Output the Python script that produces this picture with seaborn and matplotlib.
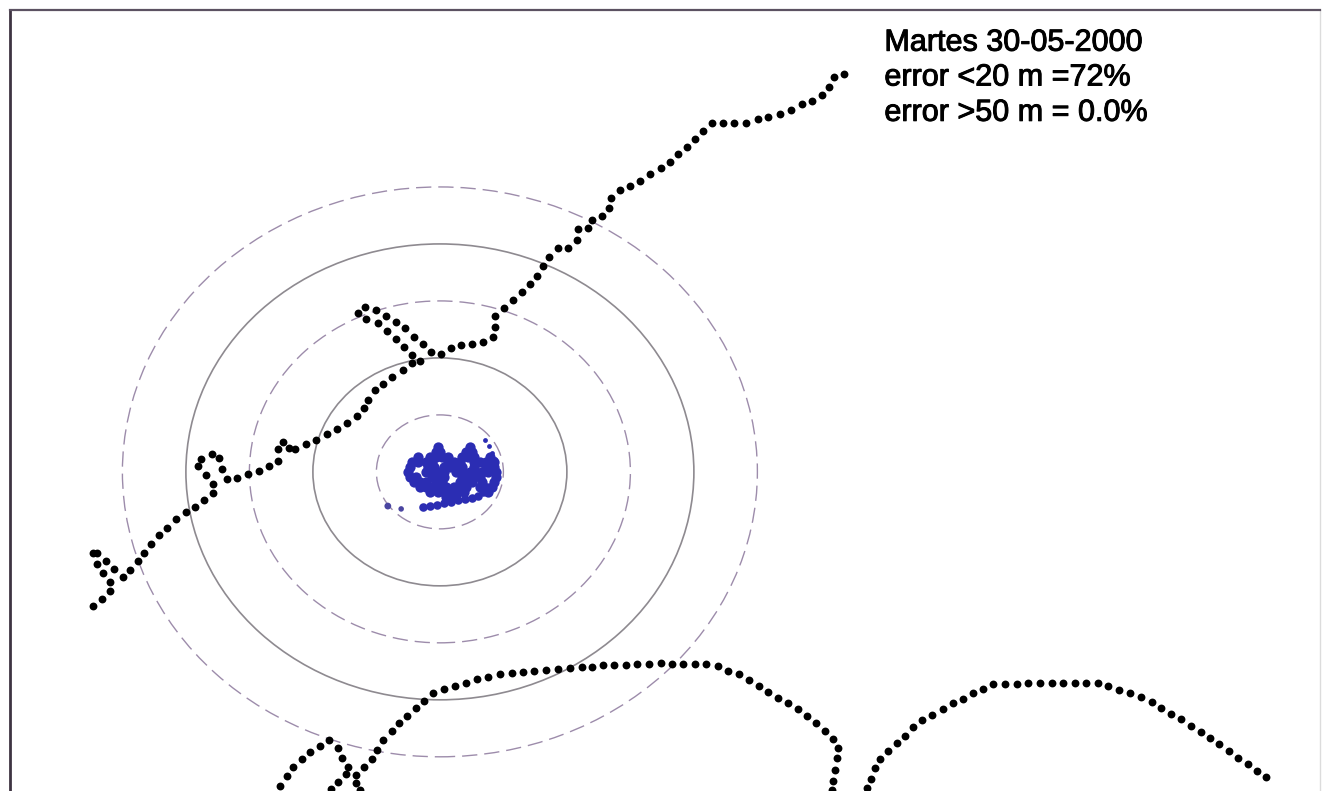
import matplotlib
matplotlib.use("Agg")
import matplotlib.pyplot as plt
import matplotlib.patheffects as pe
from matplotlib.patches import Circle
import pandas as pd
import seaborn as sns

# ---------------- data (metres east / north of the reference station) ----------------
track_a_x = [-54.6, -53.2, -52.0, -52.0, -53.1, -54.0, -54.6, -54.0, -52.6, -51.3,
             -49.9, -48.8, -47.6, -46.6, -45.5, -44.3, -43.0, -41.6, -40.0, -38.6,
             -37.2, -35.7, -35.7, -36.9, -38.1, -37.6, -35.9, -34.8, -34.3, -33.5,
             -32.0, -30.2, -28.5, -26.9, -25.5, -25.5, -24.7, -23.8, -22.8, -21.1,
             -19.5, -17.8, -16.2, -14.6, -13.1, -12.0, -11.3, -10.2, -9.0, -7.6,
             -5.8, -4.4, -3.1, -4.4, -5.7, -6.9, -8.3, -9.8, -11.7, -12.9,
             -11.8, -10.1, -8.5, -6.9, -5.5, -4.1, -2.7, -1.4, 0.2, 1.7,
             3.3, 5.0, 6.8, 8.3, 8.7, 8.7, 10.1, 11.5, 12.9, 14.2,
             15.3, 16.2, 17.2, 18.6, 20.2, 21.6, 21.7, 23.3, 23.9, 25.5,
             26.6, 26.9, 28.3, 29.9, 31.5, 33.1, 34.8, 36.2, 37.5, 38.9,
             40.2, 41.4, 42.8, 44.6, 46.3, 48.2, 50.1, 51.7, 53.5, 55.3,
             57.0, 58.6, 60.2, 61.3, 62.0, 63.6]
track_a_y = [-23.5, -22.3, -20.9, -19.3, -17.7, -16.1, -14.2, -14.2, -15.6, -17.0,
             -18.4, -17.2, -15.6, -14.2, -12.6, -11.1, -9.8, -8.2, -7.0, -6.1,
             -4.9, -3.7, -2.1, -0.5, 1.1, 2.3, 3.2, 2.5, 0.5, -1.2,
             -1.1, -0.4, 0.2, 1.1, 1.9, 4.0, 5.3, 4.2, 4.0, 4.9,
             5.6, 6.7, 7.5, 8.6, 9.8, 11.2, 12.6, 14.4, 15.4, 16.7,
             17.9, 19.1, 19.5, 20.5, 21.9, 23.3, 24.7, 26.1, 26.8, 27.9,
             28.9, 28.4, 27.4, 26.3, 25.3, 23.7, 22.5, 21.1, 20.7, 21.8,
             22.3, 22.5, 22.8, 23.7, 25.4, 27.4, 28.8, 30.2, 31.6, 33.0,
             34.4, 36.1, 37.7, 39.3, 39.3, 40.7, 42.6, 42.8, 44.2, 44.9,
             46.3, 48.1, 49.5, 50.2, 51.1, 52.3, 53.3, 54.4, 55.8, 57.0,
             58.4, 59.8, 61.2, 61.2, 61.2, 61.2, 61.9, 62.3, 62.8, 63.5,
             64.6, 65.1, 66.1, 67.5, 69.3, 69.8]

track_b_x = [-25.2, -24.1, -23.1, -21.7, -20.5, -18.9, -17.5, -16.1, -15.4, -14.5,
             -13.2, -13.2, -12.6]
track_b_y = [-55.1, -53.3, -51.8, -50.4, -49.1, -48.1, -47.0, -48.4, -50.2, -51.8,
             -53.2, -54.6, -55.8]

track_c_x = [-17.2, -16.1, -14.8, -12.0, -10.7, -9.9, -9.0, -7.6, -6.5, -5.2,
             -3.8, -2.5, -1.1, 0.6, 2.4, 4.1, 5.8, 7.6, 9.4, 11.3,
             13.1, 14.8, 16.7, 18.6, 20.5, 22.4, 23.9, 25.7, 27.4, 29.3,
             31.0, 32.9, 34.8, 36.5, 38.3, 40.2, 41.9, 43.8, 45.4, 47.1,
             48.7, 50.2, 51.7, 53.2, 54.8, 56.4, 57.8, 59.2, 60.6, 61.9,
             62.7, 62.5, 62.2, 61.9, 61.7]
track_c_y = [-55.6, -54.4, -53.0, -51.8, -50.4, -48.8, -47.0, -45.4, -44.0, -42.8,
             -41.4, -40.2, -38.8, -38.1, -37.5, -37.0, -36.3, -36.0, -35.4, -35.3,
             -35.1, -34.9, -34.7, -34.6, -34.4, -34.2, -34.2, -33.9, -33.9, -33.9,
             -33.7, -33.7, -33.5, -33.7, -33.7, -33.7, -33.7, -34.0, -34.9, -35.4,
             -36.5, -37.5, -38.6, -39.6, -40.5, -41.6, -42.8, -44.0, -45.4, -46.8,
             -48.4, -50.2, -52.3, -54.2, -55.8]

track_d_x = [67.2, 67.9, 68.5, 69.3, 70.6, 72.0, 73.2, 74.5, 75.9, 77.5,
             79.2, 80.8, 82.4, 83.9, 85.5, 87.1, 89.0, 90.9, 92.6, 94.5,
             96.4, 98.1, 100.0, 101.7, 103.6, 105.2, 106.9, 108.7, 110.4, 112.1,
             113.5, 115.1, 116.7, 118.3, 119.8, 121.3, 122.7, 124.3, 125.7, 127.2,
             128.7, 130.1]
track_d_y = [-55.4, -53.9, -51.9, -50.4, -48.9, -47.5, -46.3, -44.7, -43.5, -42.6,
             -41.6, -40.5, -39.8, -38.8, -38.1, -37.2, -37.2, -37.2, -37.0, -37.0,
             -37.0, -37.0, -37.0, -37.0, -37.0, -37.5, -38.2, -38.8, -39.5, -40.4,
             -41.4, -42.5, -43.3, -44.6, -45.6, -46.7, -47.7, -48.9, -50.2, -51.2,
             -52.5, -53.5]

# static receiver fixes (blue cluster)
blob_x = [-0.3, 4.7,
          -0.6, 0.0, 4.1, 5.0,
          -3.5, -1.6, -0.6, 0.3, 1.3, 3.5, 4.4, 5.4, 7.9,
          -4.4, -3.5, -2.2, -1.3, 1.3, 2.2, 3.1, 5.4, 6.3, 7.2, 8.5,
          -4.7, -1.9, -0.9, 0.6, 1.6, 2.5, 3.5, 5.4, 7.2, 8.5,
          -5.0, -2.2, -1.3, -0.3, 0.6, 2.5, 3.5, 4.7, 5.7, 6.6, 7.6, 8.8,
          -4.7, -3.8, -1.3, -0.3, 0.6, 3.5, 4.4, 5.4, 6.3, 8.8,
          -4.1, -3.1, -2.2, -0.6, 0.3, 3.1, 4.1, 5.0, 6.6, 8.5,
          -3.1, -2.2, -1.3, 0.0, 0.9, 2.2, 3.1, 4.1, 6.3, 8.2,
          -1.6, -0.3, 0.6, 1.9, 2.8, 3.8, 7.6,
          0.9, 1.9]
blob_y = [4.4, 4.4,
          3.5, 3.5, 3.5, 3.5,
          2.6, 2.6, 2.6, 2.6, 2.6, 2.6, 2.6, 2.6, 2.6,
          1.8, 1.8, 1.8, 1.8, 1.8, 1.8, 1.8, 1.8, 1.8, 1.8, 1.8,
          0.9, 0.9, 0.9, 0.9, 0.9, 0.9, 0.9, 0.9, 0.9, 0.9,
          0.0, 0.0, 0.0, 0.0, 0.0, 0.0, 0.0, 0.0, 0.0, 0.0, 0.0, 0.0,
          -0.9, -0.9, -0.9, -0.9, -0.9, -0.9, -0.9, -0.9, -0.9, -0.9,
          -1.8, -1.8, -1.8, -1.8, -1.8, -1.8, -1.8, -1.8, -1.8, -1.8,
          -2.6, -2.6, -2.6, -2.6, -2.6, -2.6, -2.6, -2.6, -2.6, -2.6,
          -3.5, -3.5, -3.5, -3.5, -3.5, -3.5, -3.5,
          -4.4, -4.4]
bar_x = [-2.7, -1.6, -0.5, 0.6, 1.7, 2.8, 3.9, 5.0, 6.0, 6.8, 7.4]
bar_y = [-6.1, -6.0, -5.8, -5.4, -5.3, -4.9, -4.7, -4.6, -4.2, -3.5, -2.6]
arc_x = [7.1, 7.7, 8.2, 8.7]
arc_y = [5.6, 4.6, 3.3, 2.2]
stray_x = [-8.2, -6.1]
stray_y = [-6.0, -6.5]

ring_radii = [10, 20, 30, 40, 50]
ring_kind = ["dashed", "solid", "dashed", "solid", "dashed"]

title_lines = ["Martes 30-05-2000", "error <20 m =72%", "error >50 m = 0.0%"]

# ---------------- figure ----------------
sns.set_theme(style="white")
plt.rcParams["font.family"] = ["Liberation Sans", "DejaVu Sans"]

fig = plt.figure(figsize=(13.22, 7.91), dpi=100)
ax = fig.add_axes([10 / 1322, 0.0, 1310 / 1322, 781 / 791])
ax.set_xlim(-67.7, 138.6)
ax.set_ylim(-56.0, 81.05)

for r, kind in zip(ring_radii, ring_kind):
    if kind == "dashed":
        ax.add_patch(Circle((0, 0), r, fill=False, edgecolor="#9d8cab",
                            linewidth=1.0, linestyle=(0, (11, 5)), zorder=1))
    else:
        ax.add_patch(Circle((0, 0), r, fill=False, edgecolor="#8e8a90",
                            linewidth=1.2, zorder=1))

blue = "#2b2db3"
sns.scatterplot(x=blob_x, y=blob_y, color=blue, s=55, linewidth=0, ax=ax, zorder=2)
sns.scatterplot(x=bar_x, y=bar_y, color=blue, s=38, linewidth=0, ax=ax, zorder=2)
sns.scatterplot(x=arc_x, y=arc_y, color=blue, s=12, linewidth=0, ax=ax, zorder=2)
sns.scatterplot(x=stray_x, y=stray_y, color="#4a45a0", s=[24, 16], linewidth=0,
                ax=ax, zorder=2, legend=False)

tracks = pd.concat([
    pd.DataFrame({"x": track_a_x, "y": track_a_y, "track": "A"}),
    pd.DataFrame({"x": track_b_x, "y": track_b_y, "track": "B"}),
    pd.DataFrame({"x": track_c_x, "y": track_c_y, "track": "C"}),
    pd.DataFrame({"x": track_d_x, "y": track_d_y, "track": "D"}),
], ignore_index=True)
sns.scatterplot(data=tracks, x="x", y="y", color="black", s=32, linewidth=0,
                ax=ax, zorder=3, legend=False)

# annotation block
text_y = [73.9, 67.8, 61.6]
for line, yy in zip(title_lines, text_y):
    ax.text(70.0, yy, line, fontsize=22, color="black", va="baseline", ha="left",
            path_effects=[pe.withStroke(linewidth=0.7, foreground="black")])

ax.set_xticks([])
ax.set_yticks([])
ax.set_xlabel("")
ax.set_ylabel("")
ax.spines["bottom"].set_visible(False)
ax.spines["left"].set_color("#3e3442")
ax.spines["left"].set_linewidth(2.0)
ax.spines["top"].set_color("#5c5262")
ax.spines["top"].set_linewidth(1.6)
ax.spines["right"].set_color("#dcdcdc")
ax.spines["right"].set_linewidth(1.0)

fig.savefig("out.png", dpi=100)
